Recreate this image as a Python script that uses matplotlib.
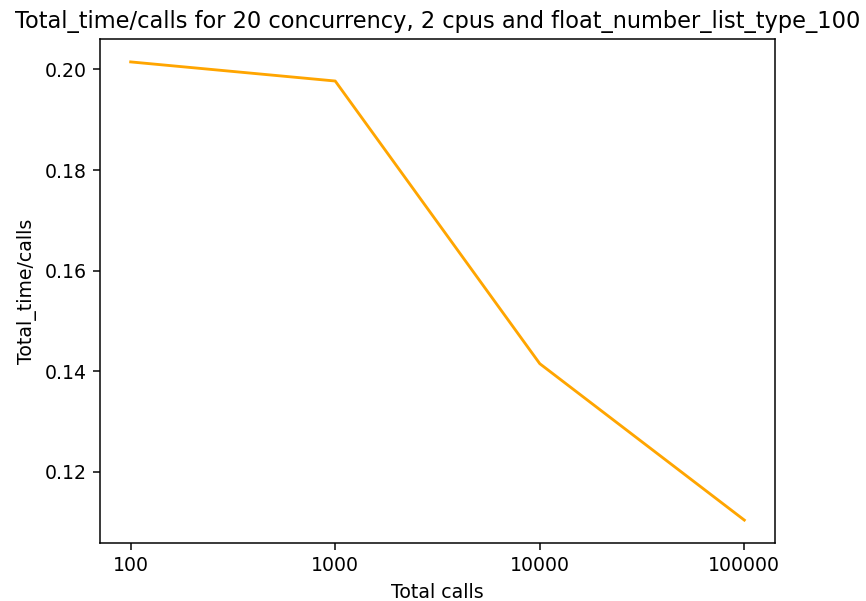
import matplotlib
matplotlib.use("Agg")
import matplotlib.pyplot as plt

calls = ["100", "1000", "10000", "100000"]
time_per_call = [0.2015, 0.1977, 0.1415, 0.1104]

dpi = 136
fig = plt.figure(figsize=(866 / dpi, 601 / dpi), dpi=dpi)
ax = fig.add_axes([100 / 866, 58 / 601, 675 / 866, 504 / 601])
ax.plot(calls, time_per_call, color="orange")
ax.set_title("Total_time/calls for 20 concurrency, 2 cpus and float_number_list_type_100",
             fontsize=11.95)
ax.set_xlabel("Total calls")
ax.set_ylabel("Total_time/calls")
ax.set_yticks([0.12, 0.14, 0.16, 0.18, 0.20])

fig.savefig("out.png", dpi=dpi)
